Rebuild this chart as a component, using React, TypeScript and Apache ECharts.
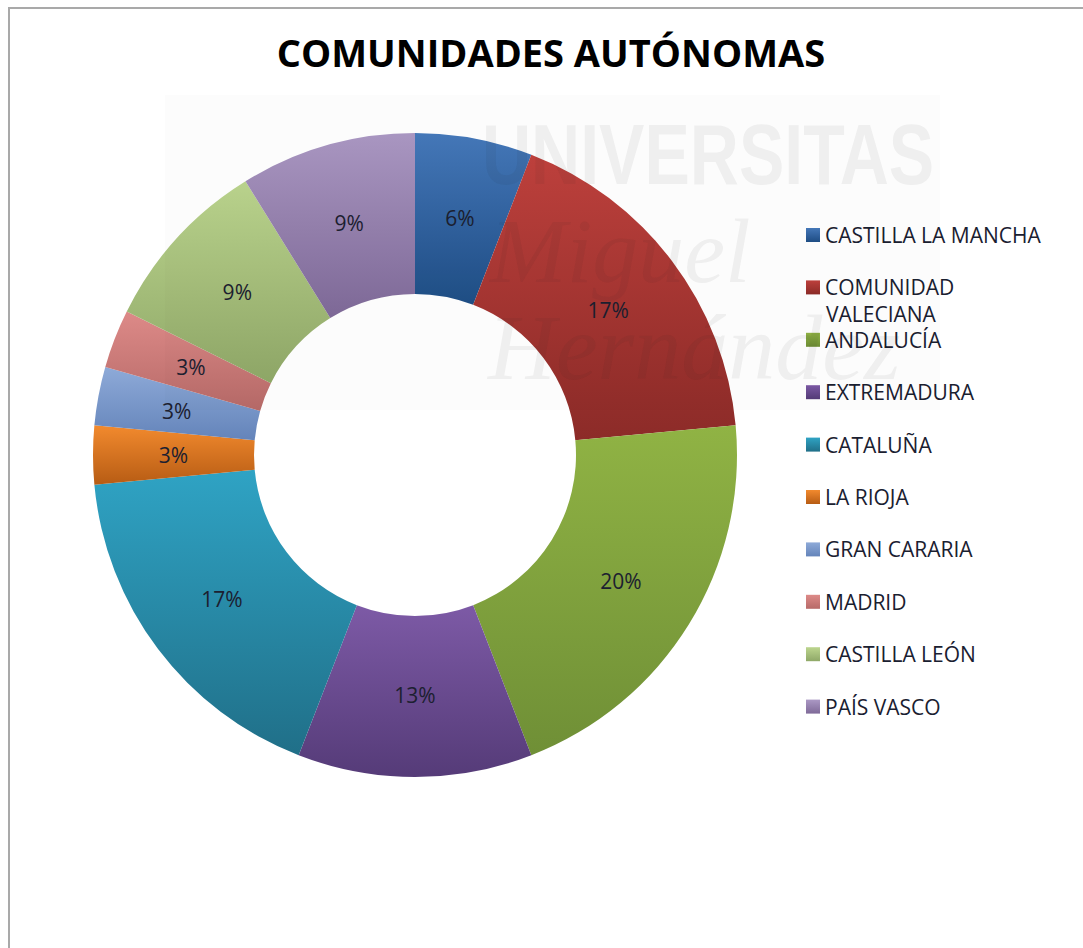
import React, { useEffect, useRef } from "react";
import * as echarts from "echarts";

const titleText = "COMUNIDADES AUTÓNOMAS";
const categories = [
  "CASTILLA LA MANCHA",
  "COMUNIDAD VALECIANA",
  "ANDALUCÍA",
  "EXTREMADURA",
  "CATALUÑA",
  "LA RIOJA",
  "GRAN CARARIA",
  "MADRID",
  "CASTILLA LEÓN",
  "PAÍS VASCO",
];
const values = [2, 6, 7, 4, 6, 1, 1, 1, 3, 3];
const percentLabels = ["6%", "17%", "20%", "13%", "17%", "3%", "3%", "3%", "9%", "9%"];
const topColors = ["#4579bb", "#c0413d", "#90b344", "#7d5aa6", "#2fa3c4", "#f28a2e", "#8eaad8", "#dd8a88", "#bcd58e", "#ab98c4"];
const bottomColors = ["#1f4e85", "#8c2b28", "#6f8f36", "#553b78", "#206f88", "#b75c14", "#6484ba", "#b76a68", "#8fa868", "#7f6a98"];
const watermarkLines = ["UNIVERSITAS", "Miguel", "Hernández"];

const grad = (i: number) =>
  new echarts.graphic.LinearGradient(0, 0, 0, 1, [
    { offset: 0, color: topColors[i] },
    { offset: 1, color: bottomColors[i] },
  ]);

// Small style nudges that shift each label from its library-computed place.
const labelNudge = [[0, 3], [-2, 2], [-2, -3], [0, -5], [2, -3], [3, 0], [2, 1], [4, 0], [3, 2], [1, 3]];

export default function App() {
  const ref = useRef<HTMLDivElement>(null);
  useEffect(() => {
    document.body.style.margin = "0";
    const chart = echarts.init(ref.current!, null, { renderer: "svg" });
    const wmColor = "rgba(40,40,40,0.06)";
    chart.setOption({
      animation: false,
      backgroundColor: "#ffffff",
      title: {
        text: titleText,
        left: 551,
        top: 33,
        padding: 0,
        textAlign: "center",
        textStyle: { fontFamily: "Open Sans", fontSize: 38, fontWeight: "bold", color: "#000000" },
      },
      legend: {
        orient: "vertical",
        left: 806,
        top: 224.5,
        padding: 0,
        itemWidth: 14,
        itemHeight: 14,
        itemGap: 31.4,
        selectedMode: false,
        icon: "rect",
        textStyle: { fontFamily: "Open Sans", fontSize: 21, color: "#1a2030" },
        formatter: (name: string) => (name === categories[1] ? "COMUNIDAD" : name),
      },
      series: [
        {
          type: "pie",
          center: [415, 455],
          radius: [161, 322],
          startAngle: 90,
          clockwise: true,
          avoidLabelOverlap: false,
          data: categories.map((name, i) => ({
            name,
            value: values[i],
            itemStyle: { color: grad(i) },
            label: { offset: labelNudge[i] },
          })),
          label: {
            position: "inside",
            formatter: (p: any) => percentLabels[p.dataIndex],
            fontFamily: "Open Sans",
            fontSize: 21,
            color: "#1c2030",
            textBorderWidth: 0,
          },
          labelLine: { show: false },
          emphasis: { disabled: true },
          z: 2,
        },
      ],
      graphic: [
        {
          type: "polyline",
          silent: true,
          z: 0,
          shape: { points: [[9, 948], [9, 8], [1083, 8]] },
          style: { stroke: "#a9a9a9", lineWidth: 2, fill: "none" },
        },
        {
          type: "rect",
          silent: true,
          z: 100,
          shape: { x: 165, y: 95, width: 775, height: 315 },
          style: { fill: "rgba(0,0,0,0.012)" },
        },
        {
          type: "text",
          silent: true,
          z: 100,
          x: 482,
          y: 112,
          scaleY: 1.25,
          style: { text: watermarkLines[0], font: "bold 68px 'Liberation Sans'", fill: wmColor },
        },
        {
          type: "text",
          silent: true,
          z: 100,
          x: 490,
          y: 205,
          style: { text: watermarkLines[1], font: "italic 92px 'Liberation Serif'", fill: wmColor },
        },
        {
          type: "text",
          silent: true,
          z: 100,
          x: 488,
          y: 300,
          style: { text: watermarkLines[2], font: "italic 94px 'Liberation Serif'", fill: wmColor },
        },
        {
          type: "text",
          z: 5,
          x: 826,
          y: 303,
          style: { text: "VALECIANA", font: "21px 'Open Sans'", fill: "#1a2030" },
        },
      ],
    });
    return () => chart.dispose();
  }, []);
  return <div ref={ref} style={{ width: 1083, height: 948 }} />;
}
